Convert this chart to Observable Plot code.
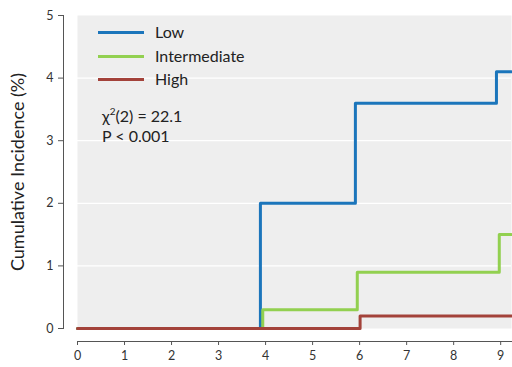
<!DOCTYPE html>
<html>
<head>
<meta charset="utf-8">
<script src="https://cdn.jsdelivr.net/npm/d3@7"></script>
<script src="https://cdn.jsdelivr.net/npm/@observablehq/plot@0.6"></script>
<style>
  html, body { margin: 0; padding: 0; background: #fff; }
  #wrap { position: relative; width: 512px; height: 367px; font-family: Lato, "Open Sans", sans-serif; }
  #legend { position: absolute; left: 98px; top: 22px; font-size: 16px; color: #222; }
  .row { position: absolute; left: 0; white-space: nowrap; height: 20px; line-height: 20px; }
  .sw { position: absolute; left: 0; top: 9px; width: 46px; height: 3px; }
  .lab { position: absolute; left: 57px; top: 0; }
  #stats { position: absolute; left: 102px; top: 106px; font-size: 16px; color: #222; line-height: 20px; white-space: nowrap; }
  #stats sup { font-size: 10px; vertical-align: 7px; line-height: 0; }
</style>
</head>
<body>
<div id="wrap"></div>
<script>
const xTicks = [0,1,2,3,4,5,6,7,8,9];
const yTicks = [0,1,2,3,4,5];
const seriesNames = ["Low", "Intermediate", "High"];
const seriesColors = ["#1b75bb", "#92d050", "#a3423a"];
const lowX = [0, 3.89, 5.91, 8.91, 9.23];
const lowY = [0, 2.0, 3.6, 4.1, 4.1];
const intX = [0, 3.94, 5.95, 8.97, 9.23];
const intY = [0, 0.3, 0.9, 1.5, 1.5];
const highX = [0, 6.01, 9.23];
const highY = [0, 0.2, 0.2];
const statLines = ["(2) = 22.1", "P < 0.001"];
const yLabel = "Cumulative Incidence (%)";

const toRows = (xs, ys, name) => xs.map((x, i) => ({x, y: ys[i], name}));
const data = [
  ...toRows(lowX, lowY, "Low"),
  ...toRows(intX, intY, "Intermediate"),
  ...toRows(highX, highY, "High")
];

const chart = Plot.plot({
  width: 512,
  height: 367,
  marginLeft: 77,
  marginRight: 1,
  marginTop: 15,
  marginBottom: 39,
  style: { fontFamily: "Lato, 'Open Sans', sans-serif", background: "white" },
  x: { domain: [0, 9.23], axis: null },
  y: { domain: [0, 5], axis: null },
  color: { domain: seriesNames, range: seriesColors },
  marks: [
    Plot.frame({ fill: "#eeeeee", stroke: null }),
    Plot.gridY([1,2,3,4], { stroke: "white", strokeOpacity: 1, strokeWidth: 1.2 }),
    Plot.frame({ anchor: "left", dx: -14, stroke: "#555" }),
    Plot.axisY({ ticks: yTicks, tickFormat: d3.format("d"), dx: -14, tickSize: 5, tickPadding: 5, fontSize: 12.5, color: "#333", label: null, stroke: "#555" }),
    Plot.frame({ anchor: "bottom", dy: 13, stroke: "#555" }),
    Plot.axisX({ ticks: xTicks, tickFormat: d3.format("d"), dy: 13, tickSize: 4, tickPadding: 6, fontSize: 12.5, color: "#333", label: null, stroke: "#555" }),
    Plot.text([yLabel], { frameAnchor: "left", textAnchor: "middle", dx: -59, rotate: -90, fontSize: 18, fill: "#222" }),
    Plot.line(data, { x: "x", y: "y", z: "name", stroke: "name", strokeWidth: 3, curve: "step-after" })
  ]
});

const wrap = document.getElementById("wrap");
wrap.appendChild(chart);

const legend = document.createElement("div");
legend.id = "legend";
seriesNames.forEach((n, i) => {
  const row = document.createElement("div");
  row.className = "row";
  row.style.top = (i * 23.5) + "px";
  const sw = document.createElement("div");
  sw.className = "sw";
  sw.style.background = seriesColors[i];
  const lab = document.createElement("div");
  lab.className = "lab";
  lab.textContent = n;
  row.appendChild(sw); row.appendChild(lab);
  legend.appendChild(row);
});
wrap.appendChild(legend);

const stats = document.createElement("div");
stats.id = "stats";
stats.innerHTML = "<div>χ<sup>2</sup>" + statLines[0] + "</div><div>" + statLines[1] + "</div>";
wrap.appendChild(stats);
</script>
</body>
</html>
